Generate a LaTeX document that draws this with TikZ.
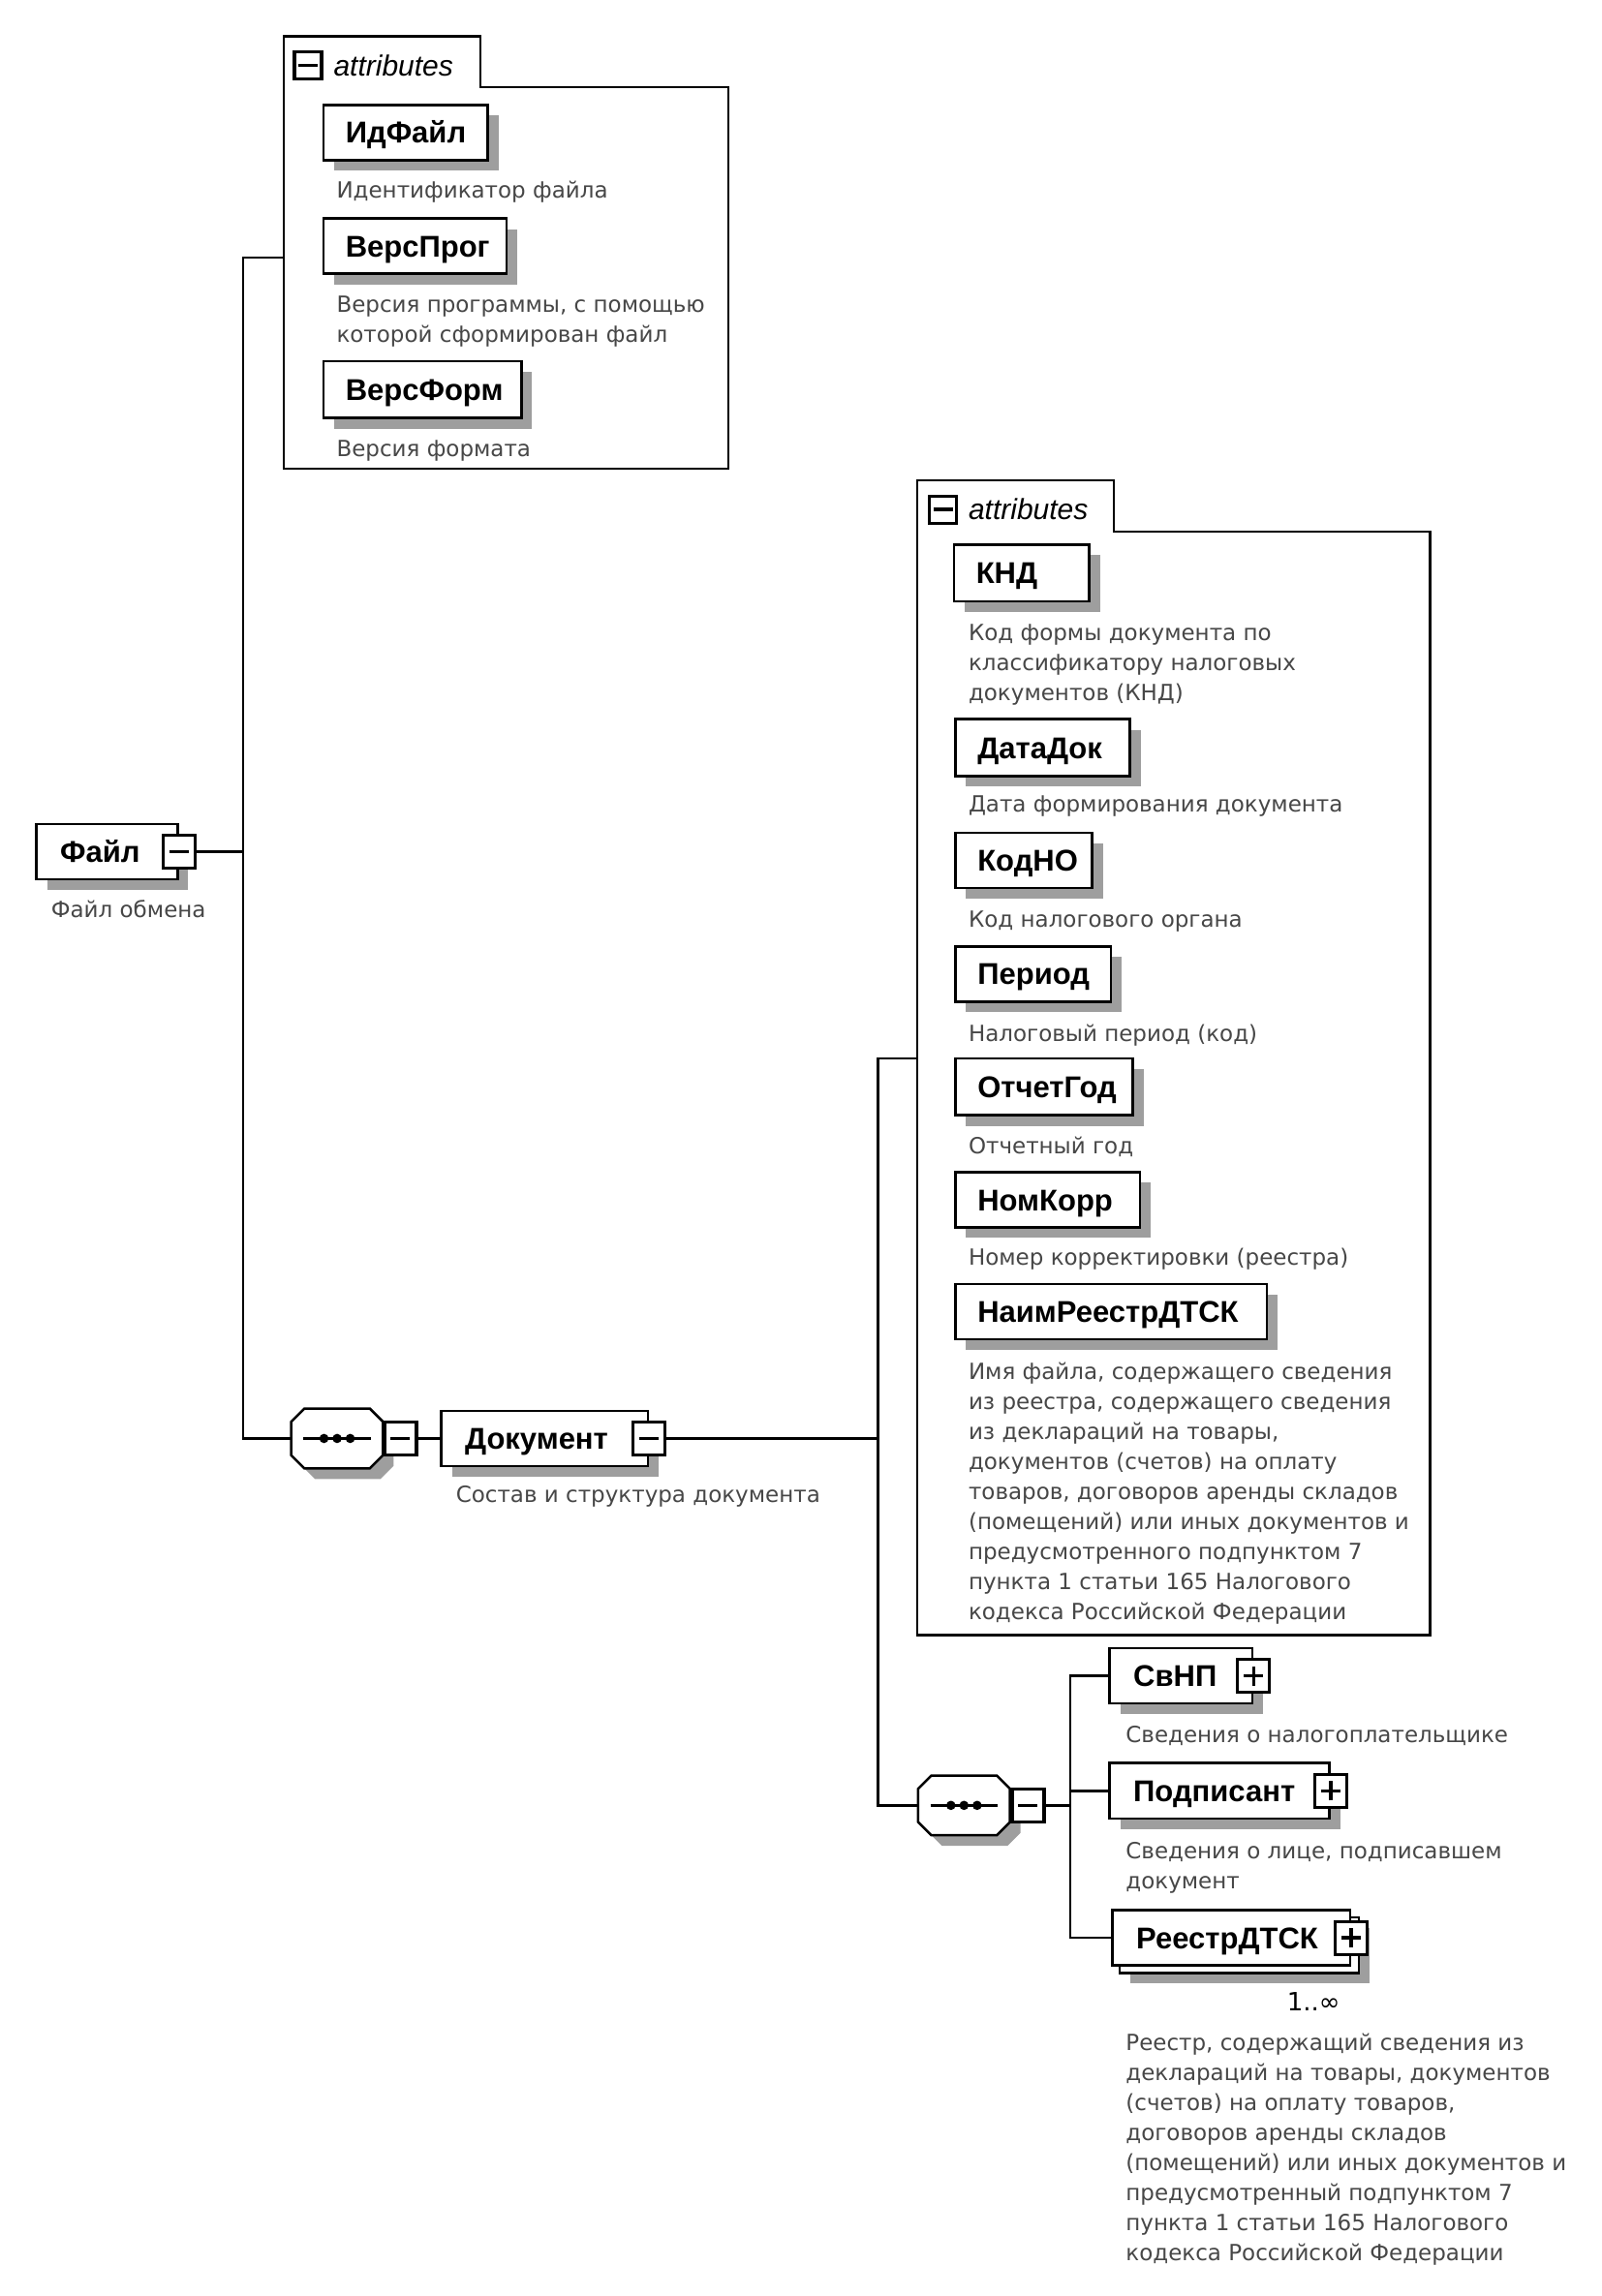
\documentclass[tikz,border=0pt]{standalone}
\usepackage{fontspec}
\newfontfamily\dvs{DejaVu Sans}
\newfontfamily\lib{Liberation Sans}
\usetikzlibrary{fit,shadows,calc}
\newcommand\descfont{\dvs\fontsize{23pt}{31pt}\selectfont}
\newcommand\lblfont{\lib\bfseries\fontsize{31pt}{36pt}\selectfont}
\newcommand\attfont{\lib\itshape\fontsize{30pt}{36pt}\selectfont}
\newcommand\multfont{\dvs\fontsize{26pt}{30pt}\selectfont}
\begin{document}
\begin{tikzpicture}[x=1.5036pt,y=-1.5036pt,
  bl/.style={line width=2.5pt},
  conn/.style={line width=2.5pt},
  shadowc/.style={fill=black!38},
  ebox/.style={draw, line width=2.5pt, fill=white, inner sep=0pt,
     drop shadow={shadow xshift=11pt, shadow yshift=-11pt, fill=black!38, opacity=1}},
  plainbox/.style={draw, line width=2.5pt, fill=white, inner sep=0pt},
  lbl/.style={font=\lblfont, inner sep=0pt, anchor=base west},
  desc/.style={font=\descfont, text=black!72, align=left, inner sep=0pt, anchor=north west},
  icn/.style={draw, line width=3.2pt, fill=white, inner sep=0pt, minimum width=33pt, minimum height=34pt},
  minusicon/.style={icn, path picture={\draw[line width=3.6pt]
     ([xshift=-10pt]path picture bounding box.center) -- ([xshift=10pt]path picture bounding box.center);}},
  plusicon/.style={icn, path picture={\draw[line width=3.4pt]
     ([xshift=-10pt]path picture bounding box.center) -- ([xshift=10pt]path picture bounding box.center)
     ([yshift=-10pt]path picture bounding box.center) -- ([yshift=10pt]path picture bounding box.center);}},
  picn/.style={minusicon, minimum width=28pt, minimum height=28pt},
  att/.style={font=\attfont, inner sep=0pt, anchor=west},
  mult/.style={font=\multfont, inner sep=0pt},
  anchorbox/.style={inner sep=0pt, draw=none}
]
\useasboundingbox (0,0) rectangle (1100,1577);

% ---------- bus coordinates
\coordinate (b1t) at (167,177);
\coordinate (b1b) at (167,988);
\coordinate (b2t) at (603,727);
\coordinate (b2b) at (603,1240);
\coordinate (b3t) at (735,1151);
\coordinate (b3b) at (735,1331);

% ---------- panel A (attributes of Файл)
\node[anchorbox, fit={(195,25)(500,322)}] (panelA) {};
\draw[bl, fill=white] (195,322) -- (195,25) -- (330,25) -- (330,60) -- (500,60) -- (500,322) -- cycle;
\node[picn] (panelAI) at (211.5,45) {};
\node[att] (panelAT) at (229,45) {attributes};

\node[ebox, fit={(222,72)(335,110)}] (idfile) {};
\node[lbl] (idfileL) at ([shift={(16,7.4)}]idfile.west) {ИдФайл};
\node[desc] (idfileD) at (231,124.5) {Идентификатор файла};

\node[ebox, fit={(222,150)(348,188)}] (versprog) {};
\node[lbl] (versprogL) at ([shift={(16,7.4)}]versprog.west) {ВерсПрог};
\node[desc] (versprogD) at (231,203.5) {Версия программы, с помощью\\которой сформирован файл};

\node[ebox, fit={(222,248)(358,287)}] (versform) {};
\node[lbl] (versformL) at ([shift={(16,7.4)}]versform.west) {ВерсФорм};
\node[desc] (versformD) at (231,302.5) {Версия формата};

% ---------- panel B (attributes of Документ)
\node[anchorbox, fit={(630,330)(982,1123)}] (panelB) {};
\draw[bl, fill=white] (630,1123) -- (630,330) -- (765,330) -- (765,365) -- (982,365) -- (982,1123) -- cycle;
\node[picn] (panelBI) at (647.5,350) {};
\node[att] (panelBT) at (665,350) {attributes};

\node[ebox, fit={(655,374)(748,413)}] (knd) {};
\node[lbl] (kndL) at ([shift={(16,7.4)}]knd.west) {КНД};
\node[desc] (kndD) at (665,428.5) {Код формы документа по\\классификатору налоговых\\документов (КНД)};

\node[ebox, fit={(656,494)(776,533)}] (datadok) {};
\node[lbl] (datadokL) at ([shift={(16,7.4)}]datadok.west) {ДатаДок};
\node[desc] (datadokD) at (665,546.5) {Дата формирования документа};

\node[ebox, fit={(656,572)(750,610)}] (kodno) {};
\node[lbl] (kodnoL) at ([shift={(16,7.4)}]kodno.west) {КодНО};
\node[desc] (kodnoD) at (665,625.5) {Код налогового органа};

\node[ebox, fit={(656,650)(763,688)}] (period) {};
\node[lbl] (periodL) at ([shift={(16,7.4)}]period.west) {Период};
\node[desc] (periodD) at (665,703.5) {Налоговый период (код)};

\node[ebox, fit={(656,727)(778,766)}] (otchgod) {};
\node[lbl] (otchgodL) at ([shift={(16,7.4)}]otchgod.west) {ОтчетГод};
\node[desc] (otchgodD) at (665,780.5) {Отчетный год};

\node[ebox, fit={(656,805)(783,843)}] (nomkorr) {};
\node[lbl] (nomkorrL) at ([shift={(16,7.4)}]nomkorr.west) {НомКорр};
\node[desc] (nomkorrD) at (665,857.5) {Номер корректировки (реестра)};

\node[ebox, fit={(656,882)(870,920)}] (naim) {};
\node[lbl] (naimL) at ([shift={(16,7.4)}]naim.west) {НаимРеестрДТСК};
\node[desc] (naimD) at (665,935.5) {Имя файла, содержащего сведения\\из реестра, содержащего сведения\\из деклараций на товары,\\документов (счетов) на оплату\\товаров, договоров аренды складов\\(помещений) или иных документов и\\предусмотренного подпунктом 7\\пункта 1 статьи 165 Налогового\\кодекса Российской Федерации};

% ---------- Файл
\node[ebox, fit={(25,566)(122,604)}] (file) {};
\node[lbl] (fileL) at ([shift={(17,7.4)}]file.west) {Файл};
\node[desc] (fileD) at (35,618.5) {Файл обмена};

% ---------- sequence 1
\begin{scope}[shift={(231.5,988)}]
  \fill[shadowc] (-22.5+7.3,-20.5+7.3) -- (22.5+7.3,-20.5+7.3) -- (31.5+7.3,-11.5+7.3) -- (31.5+7.3,11.5+7.3)
     -- (22.5+7.3,20.5+7.3) -- (-22.5+7.3,20.5+7.3) -- (-31.5+7.3,11.5+7.3) -- (-31.5+7.3,-11.5+7.3) -- cycle;
  \draw[bl, fill=white] (-22.5,-20.5) -- (22.5,-20.5) -- (31.5,-11.5) -- (31.5,11.5) -- (22.5,20.5)
     -- (-22.5,20.5) -- (-31.5,11.5) -- (-31.5,-11.5) -- cycle;
  \node[anchorbox, fit={(-31.5,-20.5)(31.5,20.5)}] (seq1) {};
  \draw[line width=2.6pt] (-23,0) -- (23,0);
  \fill (-9,0) circle (3.2) (0,0) circle (3.2) (9,0) circle (3.2);
\end{scope}
\node[minusicon] (seq1I) at (275,988) {};

% ---------- Документ
\node[ebox, fit={(303,969)(445,1007)}] (doc) {};
\node[lbl] (docL) at ([shift={(17,7.4)}]doc.west) {Документ};
\node[desc] (docD) at (313,1020.5) {Состав и структура документа};

% ---------- sequence 2
\begin{scope}[shift={(662,1240)}]
  \fill[shadowc] (-22.5+7.3,-20.5+7.3) -- (22.5+7.3,-20.5+7.3) -- (31.5+7.3,-11.5+7.3) -- (31.5+7.3,11.5+7.3)
     -- (22.5+7.3,20.5+7.3) -- (-22.5+7.3,20.5+7.3) -- (-31.5+7.3,11.5+7.3) -- (-31.5+7.3,-11.5+7.3) -- cycle;
  \draw[bl, fill=white] (-22.5,-20.5) -- (22.5,-20.5) -- (31.5,-11.5) -- (31.5,11.5) -- (22.5,20.5)
     -- (-22.5,20.5) -- (-31.5,11.5) -- (-31.5,-11.5) -- cycle;
  \node[anchorbox, fit={(-31.5,-20.5)(31.5,20.5)}] (seq2) {};
  \draw[line width=2.6pt] (-23,0) -- (23,0);
  \fill (-9,0) circle (3.2) (0,0) circle (3.2) (9,0) circle (3.2);
\end{scope}
\node[minusicon] (seq2I) at (706,1240) {};

% ---------- children of sequence 2
\node[ebox, fit={(762,1132)(860,1170)}] (svnp) {};
\node[lbl] (svnpL) at ([shift={(17,7.4)}]svnp.west) {СвНП};
\node[desc] (svnpD) at (773,1185.5) {Сведения о налогоплательщике};

\node[ebox, fit={(762,1211)(913,1249)}] (podp) {};
\node[lbl] (podpL) at ([shift={(17,7.4)}]podp.west) {Подписант};
\node[desc] (podpD) at (773,1265.5) {Сведения о лице, подписавшем\\документ};

\node[ebox, fit={(769,1317)(933,1355)}] (reestrB) {};
\node[plainbox, fit={(764,1312)(927,1350)}] (reestr) {};
\node[lbl] (reestrL) at ([shift={(17,7.4)}]reestr.west) {РеестрДТСК};
\node[mult] (reestrM) at (902,1375) {1..∞};
\node[desc] (reestrD) at (773,1396.5) {Реестр, содержащий сведения из\\деклараций на товары, документов\\(счетов) на оплату товаров,\\договоров аренды складов\\(помещений) или иных документов и\\предусмотренный подпунктом 7\\пункта 1 статьи 165 Налогового\\кодекса Российской Федерации};

% ---------- icons on element boxes
\node[minusicon] (fileI) at (file.east) {};
\node[minusicon] (docI) at (doc.east) {};
\node[plusicon] (svnpI) at (svnp.east) {};
\node[plusicon] (podpI) at (podp.east) {};
\node[plusicon] (reestrI) at (reestr.east) {};

% ---------- connectors
\draw[conn] (panelA.west |- b1t) -- (b1t) -- (b1b) -- (seq1.west);
\draw[conn] (fileI.east) -- (fileI.east -| b1t);
\draw[conn] (seq1I.east) -- (doc.west);
\draw[conn] (docI.east) -- (docI.east -| b2t);
\draw[conn] (panelB.west |- b2t) -- (b2t) -- (b2b) -- (seq2.west);
\draw[conn] (seq2I.east) -- (seq2I.east -| b3t);
\draw[conn] (svnp.west) -- (svnp.west -| b3t) -- (reestr.west -| b3t) -- (reestr.west);
\draw[conn] (podp.west) -- (podp.west -| b3t);
\end{tikzpicture}
\end{document}
